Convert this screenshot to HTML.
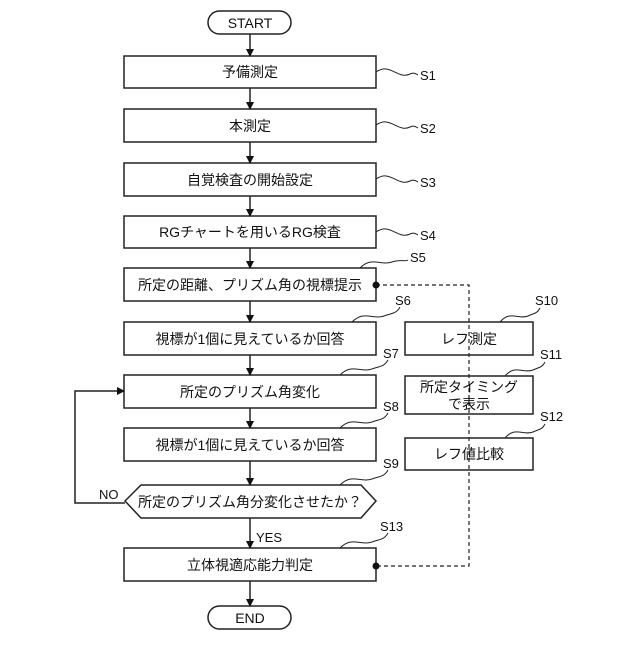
<!DOCTYPE html>
<html><head><meta charset="utf-8"><style>
body{margin:0;background:#fff}
svg text{font-family:"Liberation Sans","Noto Sans CJK JP",sans-serif;fill:#111}
</style></head><body>
<svg width="640" height="640" viewBox="0 0 640 640" xmlns="http://www.w3.org/2000/svg">
<defs><marker id="a" markerWidth="8" markerHeight="8" refX="7" refY="4" orient="auto" markerUnits="userSpaceOnUse"><path d="M0,0 L8,4 L0,8z" fill="#111"/></marker></defs>
<g stroke="#222" stroke-width="1.5" fill="none">
<rect x="208" y="11" width="83" height="23" rx="11.5"/>
<rect x="208" y="606" width="83" height="23" rx="11.5"/>
<rect x="124" y="56" width="252" height="32"/>
<rect x="124" y="109" width="252" height="33"/>
<rect x="124" y="163" width="252" height="33"/>
<rect x="124" y="216" width="252" height="32"/>
<rect x="124" y="268" width="252" height="33"/>
<rect x="124" y="322" width="252" height="33"/>
<rect x="124" y="375" width="252" height="33"/>
<rect x="124" y="428" width="252" height="33"/>
<polygon points="125,501 141,485 361,485 376,501 361,518 141,518"/>
<rect x="124" y="548" width="252" height="33"/>
<rect x="405" y="322" width="128" height="33"/>
<rect x="405" y="376" width="128" height="38"/>
<rect x="405" y="438" width="128" height="32"/>
<g marker-end="url(#a)">
<line x1="250" y1="34" x2="250" y2="56"/>
<line x1="250" y1="88" x2="250" y2="109"/>
<line x1="250" y1="142" x2="250" y2="163"/>
<line x1="250" y1="196" x2="250" y2="216"/>
<line x1="250" y1="248" x2="250" y2="268"/>
<line x1="250" y1="301" x2="250" y2="322"/>
<line x1="250" y1="355" x2="250" y2="375"/>
<line x1="250" y1="408" x2="250" y2="428"/>
<line x1="250" y1="461" x2="250" y2="485"/>
<line x1="250" y1="518" x2="250" y2="548"/>
<line x1="250" y1="581" x2="250" y2="606"/>
<polyline points="125,503 75,503 75,391 124,391"/>
</g>
<polyline points="376,285 469,285 469,566 376,566" stroke-dasharray="4,3" stroke-width="1.2"/>
<g stroke-width="1">
<path d="M376,72 C390,62 398,80 410,74 C414,72 416,74 418,75"/>
<path d="M376,125 C390,115 398,133 410,127 C414,125 416,127 418,128"/>
<path d="M376,179 C390,169 398,187 410,181 C414,179 416,181 418,182"/>
<path d="M376,232 C390,222 398,240 410,234 C414,232 416,234 418,235"/>
<path d="M360,268 C372,256 380,266 392,262 C400,259 405,262 408,260"/>
<path d="M352,322 C364,310 372,320 384,316 C392,313 396,314 400,307"/>
<path d="M340,375 C352,363 360,373 372,369 C380,366 384,367 388,360"/>
<path d="M340,428 C352,416 360,426 372,422 C380,419 384,420 388,413"/>
<path d="M340,485 C352,473 360,483 372,479 C380,476 384,477 388,470"/>
<path d="M340,548 C352,536 360,546 372,542 C380,539 384,540 388,533"/>
<path d="M500,322 C510,310 518,320 528,316 C534,313 537,314 540,308"/>
<path d="M505,376 C515,364 523,374 533,370 C539,367 542,368 545,362"/>
<path d="M505,438 C515,426 523,436 533,432 C539,429 542,430 545,424"/>
</g>
</g>
<circle cx="376" cy="285" r="3.5" fill="#111"/>
<circle cx="376" cy="566" r="3.5" fill="#111"/>
<g font-size="14" text-anchor="middle">
<text x="250" y="28">START</text>
<text x="250" y="623">END</text>
<text x="250" y="77">予備測定</text>
<text x="250" y="131">本測定</text>
<text x="250" y="185">自覚検査の開始設定</text>
<text x="250" y="237">RGチャートを用いるRG検査</text>
<text x="250" y="290">所定の距離、プリズム角の視標提示</text>
<text x="250" y="344">視標が1個に見えているか回答</text>
<text x="250" y="397">所定のプリズム角変化</text>
<text x="250" y="450">視標が1個に見えているか回答</text>
<text x="250" y="507">所定のプリズム角分変化させたか？</text>
<text x="250" y="570">立体視適応能力判定</text>
<text x="469" y="344">レフ測定</text>
<text x="469" y="392">所定タイミング</text>
<text x="469" y="409">で表示</text>
<text x="469" y="459">レフ値比較</text>
</g>
<g font-size="13">
<text x="420" y="80">S1</text>
<text x="420" y="133">S2</text>
<text x="420" y="187">S3</text>
<text x="420" y="240">S4</text>
<text x="410" y="262">S5</text>
<text x="395" y="305">S6</text>
<text x="383" y="358">S7</text>
<text x="383" y="411">S8</text>
<text x="383" y="468">S9</text>
<text x="380" y="531">S13</text>
<text x="535" y="305">S10</text>
<text x="540" y="359">S11</text>
<text x="540" y="421">S12</text>
<text x="99" y="499">NO</text>
<text x="256" y="542">YES</text>
</g>
</svg>
</body></html>
